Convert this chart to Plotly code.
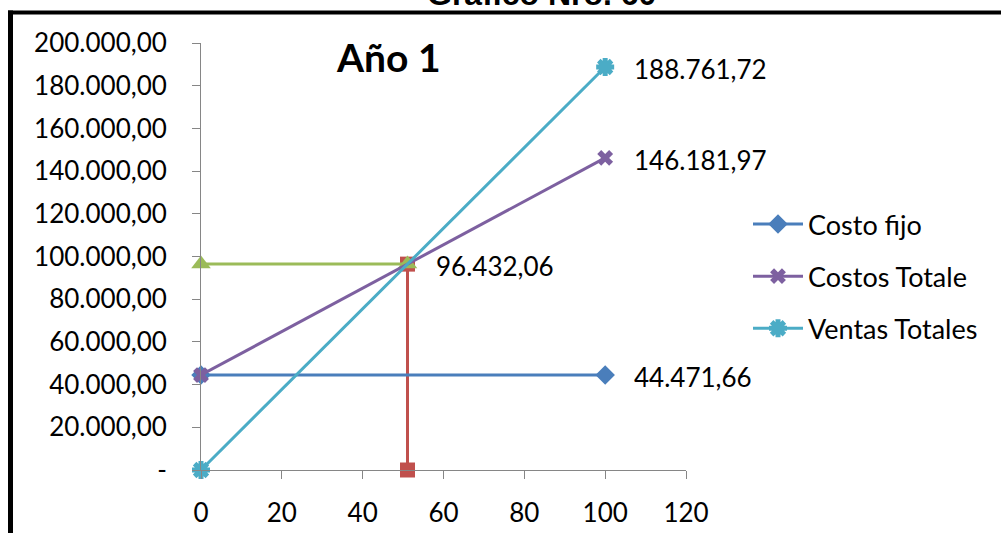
import plotly.graph_objects as go

# Punto de equilibrio - Año 1
unidades = [0, 100]
costo_fijo = [44471.66, 44471.66]
costos_totales = [44471.66, 146181.97]
ventas_totales = [0, 188761.72]

pe_unidades = [0, 51.09]
pe_valor = [96432.06, 96432.06]
pe_vertical_x = [51.09, 51.09]
pe_vertical_y = [96432.06, 0]

x_ticks = [0, 20, 40, 60, 80, 100, 120]
y_ticks = [0, 20000, 40000, 60000, 80000, 100000, 120000, 140000, 160000, 180000, 200000]
y_ticktext = ["-", "20.000,00", "40.000,00", "60.000,00", "80.000,00", "100.000,00",
              "120.000,00", "140.000,00", "160.000,00", "180.000,00", "200.000,00"]

AZUL = "#4A7EBB"
MORADO = "#7D60A0"
CELESTE = "#4BACC6"
VERDE = "#9BBB59"
ROJO = "#C0504D"
FONT = "Lato, 'Open Sans', sans-serif"


def fmt_es(v):
    s = f"{v:,.2f}"
    return s.replace(",", "X").replace(".", ",").replace("X", ".")


fig = go.Figure()

fig.add_trace(go.Scatter(
    x=pe_vertical_x, y=pe_vertical_y, mode="lines+markers", showlegend=False, cliponaxis=False,
    line=dict(color=ROJO, width=3), marker=dict(symbol="square", size=15, color=ROJO)))
fig.add_trace(go.Scatter(
    x=pe_unidades, y=pe_valor, mode="lines+markers", showlegend=False, cliponaxis=False,
    line=dict(color=VERDE, width=3), marker=dict(symbol="triangle-up", size=17, color=VERDE)))
fig.add_trace(go.Scatter(
    x=unidades, y=costo_fijo, name="Costo fijo", legendgroup="a", mode="lines+markers",
    cliponaxis=False,
    line=dict(color=AZUL, width=3), marker=dict(symbol="diamond", size=15, color=AZUL)))
fig.add_trace(go.Scatter(
    x=unidades, y=costos_totales, name="Costos Totale", legendgroup="b", mode="lines+markers",
    cliponaxis=False,
    line=dict(color=MORADO, width=3), marker=dict(symbol="x", size=14, color=MORADO)))
fig.add_trace(go.Scatter(
    x=unidades, y=ventas_totales, name="Ventas Totales", legendgroup="c", mode="lines+markers",
    cliponaxis=False,
    line=dict(color=CELESTE, width=3),
    marker=dict(symbol="asterisk", size=15, color=CELESTE, line=dict(color=CELESTE, width=5))))

# Etiquetas de valor
etiquetas = [
    (unidades[1], ventas_totales[1]),
    (unidades[1], costos_totales[1]),
    (unidades[1], costo_fijo[1]),
    (pe_unidades[1], pe_valor[1]),
]
for xv, yv in etiquetas:
    fig.add_annotation(x=xv, y=yv, xref="x", yref="y", text=fmt_es(yv), showarrow=False,
                       xanchor="left", yanchor="middle", xshift=27, yshift=-2,
                       font=dict(family=FONT, size=26, color="#000000"))

fig.add_annotation(x=(388 - 201) / 485, y=(470 - 57) / 427, xref="paper", yref="paper",
                   text="<b>Año 1</b>", showarrow=False, xanchor="center", yanchor="middle",
                   font=dict(family=FONT, size=39, color="#000000"))

fig.add_annotation(x=(541 - 201) / 485, y=(470 - 14) / 427, xref="paper", yref="paper",
                   text="<b>Gráfico Nro. 60</b>", showarrow=False, xanchor="center",
                   yanchor="bottom",
                   font=dict(family="'Liberation Sans', Arial, sans-serif", size=32, color="#000000"))

# Marco del gráfico
fig.add_shape(type="line", xref="paper", yref="paper",
              x0=(8 - 201) / 485, x1=(1010 - 201) / 485,
              y0=(470 - 12.5) / 427, y1=(470 - 12.5) / 427,
              line=dict(color="#000000", width=4))
fig.add_shape(type="line", xref="paper", yref="paper",
              x0=(10.5 - 201) / 485, x1=(10.5 - 201) / 485,
              y0=(470 - 10.5) / 427, y1=(470 - 560) / 427,
              line=dict(color="#000000", width=5))

fig.update_layout(
    width=1001, height=533,
    margin=dict(l=201, r=315, t=43, b=63, autoexpand=False),
    paper_bgcolor="white", plot_bgcolor="white",
    font=dict(family=FONT, size=26, color="#000000"),
    legend=dict(x=(748 - 201) / 485, y=(470 - 200) / 427, xanchor="left", yanchor="top",
                traceorder="grouped", tracegroupgap=14, itemwidth=50,
                font=dict(family=FONT, size=27, color="#000000"), bgcolor="rgba(0,0,0,0)"),
    xaxis=dict(range=[0, 120], tickvals=x_ticks, ticktext=[str(v) for v in x_ticks],
               automargin=False,
               showgrid=False, zeroline=False, showline=True, linecolor="#868686", linewidth=1,
               ticks="outside", ticklen=8, tickcolor="#868686", ticklabelstandoff=12),
    yaxis=dict(range=[0, 200000], tickvals=y_ticks, ticktext=y_ticktext, automargin=False,
               showgrid=False, zeroline=False, showline=True, linecolor="#868686", linewidth=1,
               ticks="outside", ticklen=8, tickcolor="#868686", ticklabelstandoff=20),
)

fig.write_html("out.html")
